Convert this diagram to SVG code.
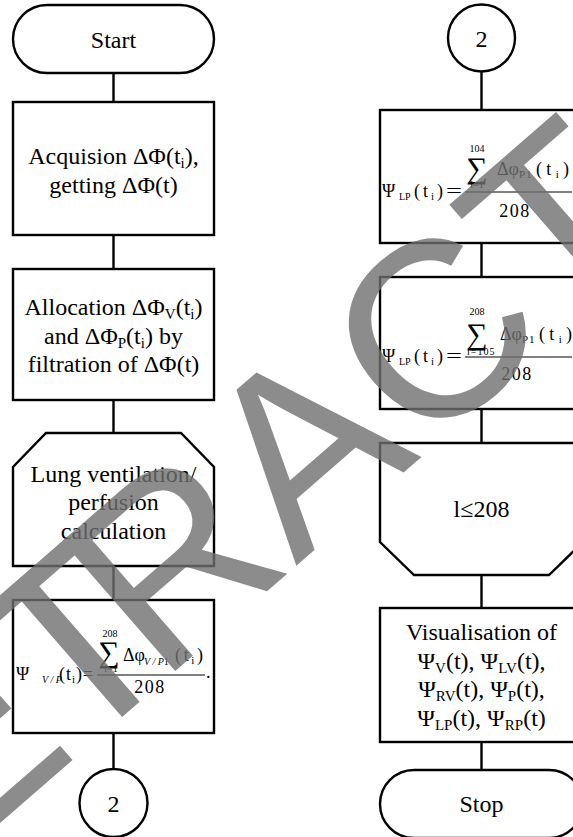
<svg xmlns="http://www.w3.org/2000/svg" width="573" height="837" viewBox="0 0 573 837">
<style>
.s{fill:#fff;stroke:#000;stroke-width:2.4}
.c line{stroke:#000;stroke-width:2.4}
.fl{stroke:#000;stroke-width:1.1}
text{font-family:"Liberation Serif","Times New Roman",serif;fill:#000}
.t{font-size:24px;text-anchor:middle}
.f{font-size:18px}
.m{font-size:10px;text-anchor:middle}
.sg{font-size:30px;text-anchor:middle}
.wm{font-family:"Liberation Sans",Arial,sans-serif;font-size:250px;fill:#707070}
</style>
<rect width="573" height="837" fill="#fff"/>
<g id="connectors" class="c">
<line x1="113.5" y1="73" x2="113.5" y2="102"/>
<line x1="113.5" y1="235" x2="113.5" y2="269"/>
<line x1="113.5" y1="400" x2="113.5" y2="433"/>
<line x1="113.5" y1="566" x2="113.5" y2="600"/>
<line x1="113.5" y1="733" x2="113.5" y2="769"/>
<line x1="481.5" y1="71" x2="481.5" y2="110"/>
<line x1="481.5" y1="243" x2="481.5" y2="277"/>
<line x1="481.5" y1="409" x2="481.5" y2="443"/>
<line x1="481.5" y1="575" x2="481.5" y2="608"/>
<line x1="481.5" y1="742" x2="481.5" y2="770"/>
</g>
<g id="start">
<rect class="s" x="13" y="5" width="201" height="68" rx="34"/>
<text class="t" x="113.5" y="47.5">Start</text>
</g>
<g id="acquisition">
<rect class="s" x="13" y="102" width="201" height="133"/>
<text class="t" x="113.5" y="164">Acquision ΔΦ(t<tspan font-size="15" dy="4">i</tspan><tspan dy="-4">),</tspan></text>
<text class="t" x="113.5" y="192.5">getting ΔΦ(t)</text>
</g>
<g id="allocation">
<rect class="s" x="13" y="269" width="201" height="131"/>
<text class="t" x="113.5" y="315">Allocation ΔΦ<tspan font-size="15" dy="4">V</tspan><tspan dy="-4">(t</tspan><tspan font-size="15" dy="4">i</tspan><tspan dy="-4">)</tspan></text>
<text class="t" x="113.5" y="343.5">and ΔΦ<tspan font-size="15" dy="4">P</tspan><tspan dy="-4">(t</tspan><tspan font-size="15" dy="4">i</tspan><tspan dy="-4">) by</tspan></text>
<text class="t" x="113.5" y="372">filtration of ΔΦ(t)</text>
</g>
<g id="loop-start">
<polygon class="s" points="46,433 181,433 214,467 214,566 13,566 13,467"/>
<text class="t" x="113.5" y="481.5">Lung ventilation/</text>
<text class="t" x="113.5" y="510">perfusion</text>
<text class="t" x="113.5" y="538.5">calculation</text>
</g>
<g id="formula-vp">
<rect class="s" x="13" y="600" width="201" height="133"/>
<text class="f" x="16" y="680">Ψ</text>
<text x="42" y="683" font-size="10" font-style="italic">V / P</text>
<text class="f" x="59" y="680" textLength="34" lengthAdjust="spacing">(t<tspan font-size="11" dy="3">i</tspan><tspan dy="-3">)=</tspan></text>
<line class="fl" x1="97" y1="675" x2="205" y2="675"/>
<text class="m" x="110" y="637">208</text>
<text class="sg" x="109" y="662">∑</text>
<text class="m" x="111" y="672">l=1</text>
<text class="f" x="123" y="661">Δφ</text>
<text x="144" y="665" font-size="10"><tspan font-style="italic">V / P</tspan>1</text>
<text class="f" x="175" y="661" textLength="28" lengthAdjust="spacing">(t<tspan font-size="11" dy="3">i</tspan><tspan dy="-3">)</tspan></text>
<text class="f" x="150" y="693" text-anchor="middle" letter-spacing="1.5">208</text>
<text class="f" x="206" y="678">.</text>
</g>
<g id="connector-out">
<circle class="s" cx="113.5" cy="803" r="34"/>
<text class="t" x="113.5" y="811.5">2</text>
</g>
<g id="connector-in">
<circle class="s" cx="481.5" cy="38" r="33.5"/>
<text class="t" x="481.5" y="46.5">2</text>
</g>
<g id="formula-lp1">
<rect class="s" x="380" y="110" width="203" height="133"/>
<text class="f" x="382" y="197">Ψ</text>
<text x="399" y="200" font-size="10">LP</text>
<text class="f" x="414" y="197" textLength="29" lengthAdjust="spacing">(t<tspan font-size="11" dy="3">i</tspan><tspan dy="-3">)</tspan></text>
<text class="f" x="446" y="197" textLength="16" lengthAdjust="spacingAndGlyphs">=</text>
<line class="fl" x1="465" y1="192" x2="572" y2="192"/>
<text class="m" x="477" y="152">104</text>
<text class="sg" x="477" y="178">∑</text>
<text class="m" x="477" y="188">l=1</text>
<text class="f" x="497" y="175">Δφ</text>
<text x="519" y="178" font-size="11" letter-spacing="1">P1</text>
<text class="f" x="536" y="175" textLength="33" lengthAdjust="spacing">(t<tspan font-size="11" dy="3">i</tspan><tspan dy="-3">)</tspan></text>
<text class="f" x="515" y="217" text-anchor="middle" letter-spacing="1.5">208</text>
</g>
<g id="formula-lp2">
<rect class="s" x="380" y="277" width="203" height="132"/>
<text class="f" x="382" y="362">Ψ</text>
<text x="399" y="365" font-size="10">LP</text>
<text class="f" x="414" y="362" textLength="29" lengthAdjust="spacing">(t<tspan font-size="11" dy="3">i</tspan><tspan dy="-3">)</tspan></text>
<text class="f" x="446" y="362" textLength="16" lengthAdjust="spacingAndGlyphs">=</text>
<line class="fl" x1="465" y1="357" x2="572" y2="357"/>
<text class="m" x="477" y="315">208</text>
<text class="sg" x="477" y="344">∑</text>
<text x="467" y="355" font-size="10" letter-spacing="1">l=105</text>
<text class="f" x="500" y="340">Δφ</text>
<text x="522" y="343" font-size="11" letter-spacing="1">P1</text>
<text class="f" x="539" y="340" textLength="33" lengthAdjust="spacing">(t<tspan font-size="11" dy="3">i</tspan><tspan dy="-3">)</tspan></text>
<text class="f" x="517" y="380" text-anchor="middle" letter-spacing="1.5">208</text>
</g>
<g id="loop-end">
<polygon class="s" points="380,443 583,443 583,542 549,575 414,575 380,542"/>
<text class="t" x="481.5" y="517">l≤208</text>
</g>
<g id="visualisation">
<rect class="s" x="380" y="608" width="203" height="134"/>
<text class="t" x="481.5" y="640">Visualisation of</text>
<text class="t" x="481.5" y="668.5">Ψ<tspan font-size="15" dy="4">V</tspan><tspan dy="-4">(t), Ψ</tspan><tspan font-size="15" dy="4">LV</tspan><tspan dy="-4">(t),</tspan></text>
<text class="t" x="481.5" y="697">Ψ<tspan font-size="15" dy="4">RV</tspan><tspan dy="-4">(t), Ψ</tspan><tspan font-size="15" dy="4">P</tspan><tspan dy="-4">(t),</tspan></text>
<text class="t" x="481.5" y="725.5">Ψ<tspan font-size="15" dy="4">LP</tspan><tspan dy="-4">(t), Ψ</tspan><tspan font-size="15" dy="4">RP</tspan><tspan dy="-4">(t)</tspan></text>
</g>
<g id="stop">
<rect class="s" x="380" y="770" width="203" height="68" rx="34"/>
<text class="t" x="481.5" y="812">Stop</text>
</g>
<g id="watermark" opacity="0.8">
<text class="wm" transform="translate(296,566) rotate(-41)" x="-632.5 -452 -295 -180.5 0 166.75 347.25 500 666.75" y="0">RETRACTED</text>
</g>
</svg>
